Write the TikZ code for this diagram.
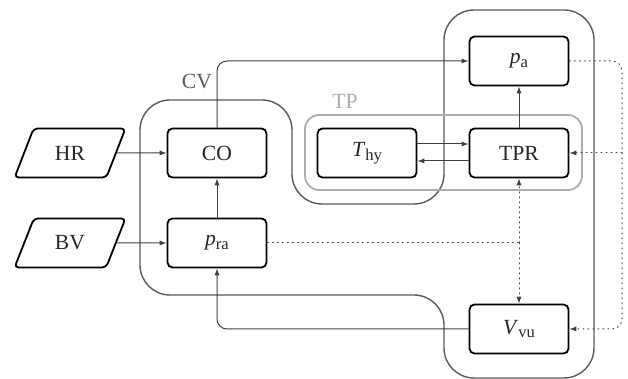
\documentclass[tikz,border=0pt]{standalone}
\usepackage{fontspec}
\setmainfont{Liberation Serif}
\usetikzlibrary{arrows.meta,shapes.geometric}
\newcommand{\lowtxt}[1]{\raisebox{-0.4ex}{\fontsize{8.3}{9}\selectfont #1}}

\begin{document}
\begin{tikzpicture}[x=0.5pt,y=0.5pt,>={Latex[length=3.5pt,width=2.6pt]},font=\fontsize{10.8}{12}\selectfont,line cap=round,
  blk/.style={draw,line width=0.9pt,rounded corners=2.5pt,minimum width=49.5pt,minimum height=24.5pt,inner sep=0pt,text=black!85},
  inp/.style={draw,line width=0.9pt,rounded corners=2pt,trapezium,trapezium left angle=61,trapezium right angle=119,trapezium stretches,minimum width=55.5pt,minimum height=24.5pt,inner sep=0pt,text=black!85},
  con/.style={draw=black!75,line width=0.5pt},
  dot/.style={draw=black!75,line width=0.5pt,dotted}]
\useasboundingbox (0,0) rectangle (628,379);
% groups
\draw[black!65,line width=0.7pt,rounded corners=15pt] (200,279) -- (292,279) -- (292,175) -- (444,175) -- (444,369) -- (594,369) -- (594,1) -- (444,1) -- (444,84) -- (140,84) -- (140,279) -- cycle;
\draw[black!32,line width=0.9pt,rounded corners=7pt] (305,189) rectangle (582,264);
\node[text=black!65] (cvlab) at (197,297) {CV};
\node[text=black!32] (tplab) at (345,278) {TP};
% blocks
\node[inp] (hr) at (70,226) {HR};
\node[inp] (bv) at (70,136) {BV};
\node[blk] (co) at (217,226) {CO};
\node[blk] (pra) at (217,136) {\textit{p}\lowtxt{ra}};
\node[blk] (thy) at (367,226) {\textit{T}\lowtxt{hy}};
\node[blk] (tpr) at (519,226) {TPR};
\node[blk] (pa) at (519,318) {\textit{p}\lowtxt{a}};
\node[blk] (vvu) at (519,50) {\textit{V}\lowtxt{vu}};
\coordinate (fb) at (622,226);
\coordinate (jn) at (tpr |- pra);
% links
\draw[con,->] (hr) -- (co);
\draw[con,->] (bv) -- (pra);
\draw[con,->] (pra) -- (co);
\draw[con,->,rounded corners=5pt] (co.north) |- (pa.west);
\draw[con,->] (tpr) -- (pa);
\draw[con,->] ([yshift=4.5pt]thy.east) -- ([yshift=4.5pt]tpr.west);
\draw[con,->] ([yshift=-4pt]tpr.west) -- ([yshift=-4pt]thy.east);
\draw[con,->,rounded corners=5pt] (vvu.west) -| (pra.south);
\draw[dot,->,rounded corners=5pt] (pa.east) -| (fb) |- (vvu.east);
\draw[dot,->] (fb) -- (tpr.east);
\draw[dot] (pra.east) -- (jn);
\draw[dot,->] (jn) -- (tpr.south);
\draw[dot,->] (jn) -- (vvu.north);
\end{tikzpicture}
\end{document}
